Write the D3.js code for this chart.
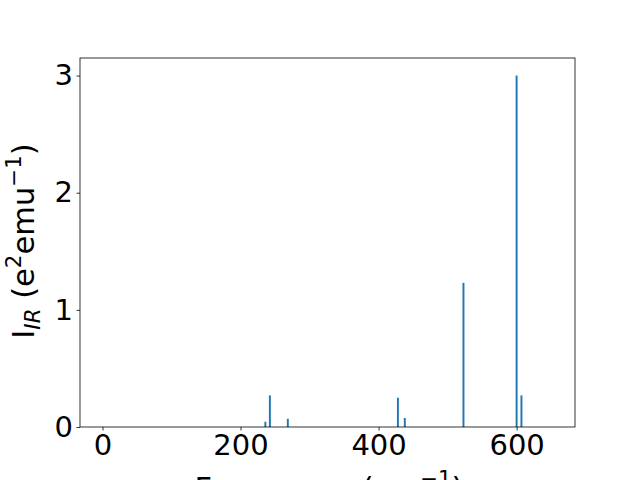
<!DOCTYPE html>
<html><head><meta charset="utf-8">
<script src="https://cdn.jsdelivr.net/npm/d3@7"></script>
<style>body{margin:0;background:#fff}svg{display:block}text{font-family:"DejaVu Sans",sans-serif}</style>
</head><body>
<svg id="c" width="640" height="480"></svg>
<script>
const frequencies = [0, 236, 242.5, 268.5, 428, 438, 523, 600, 607, 652];
const intensities = [0, 0.045, 0.27, 0.07, 0.25, 0.077, 1.23, 3.0, 0.27, 0];
const xTicks = [0, 200, 400, 600];
const yTicks = [0, 1, 2, 3];

const svg = d3.select("#c");
const L = 80, R = 575, T = 58, B = 427;
const x = d3.scaleLinear().domain([-32.6, 684.6]).range([L, R]);
const y = d3.scaleLinear().domain([0, 3.15]).range([B, T]);
const barW = 2.8;

svg.append("g").selectAll("rect").data(frequencies).join("rect")
  .attr("x", (d) => x(d - barW / 2))
  .attr("width", x(barW) - x(0))
  .attr("y", (d, i) => y(intensities[i]))
  .attr("height", (d, i) => y(0) - y(intensities[i]))
  .attr("fill", "#1f77b4");

const fs = 29, lfs = 30.5;
const xa = svg.append("g").attr("transform", `translate(0,${B})`)
  .call(d3.axisBottom(x).tickValues(xTicks).tickSize(3.5).tickPadding(3.5).tickFormat(d3.format("d")));
const ya = svg.append("g").attr("transform", `translate(${L},0)`)
  .call(d3.axisLeft(y).tickValues(yTicks).tickSize(3.5).tickPadding(3.5).tickFormat(d3.format("d")));
[xa, ya].forEach(a => {
  a.select(".domain").remove();
  a.selectAll("line").attr("stroke", "#000").attr("stroke-width", 0.8);
  a.selectAll("text").attr("font-size", fs).attr("fill", "#000").attr("font-family", "DejaVu Sans");
});
svg.append("rect").attr("x", L).attr("y", T).attr("width", R - L).attr("height", B - T)
  .attr("fill", "none").attr("stroke", "#000").attr("stroke-width", 0.8);

// x label
const xl = svg.append("text").attr("x", 329).attr("y", 499).attr("text-anchor", "middle")
  .attr("font-size", lfs).attr("fill", "#000");
xl.append("tspan").text("Frequency (cm");
xl.append("tspan").attr("font-size", lfs * 0.7).attr("dy", -13).text("\u22121");
xl.append("tspan").attr("dy", 13).text(")");

// y label
const yl = svg.append("text").attr("transform", `translate(34,241) rotate(-90)`)
  .attr("text-anchor", "middle").attr("font-size", lfs).attr("fill", "#000");
yl.append("tspan").text("I");
yl.append("tspan").attr("font-size", lfs * 0.7).attr("font-style", "italic").attr("dy", 6).text("IR");
yl.append("tspan").attr("dy", -6).text(" (e");
yl.append("tspan").attr("font-size", lfs * 0.7).attr("dy", -13).text("2");
yl.append("tspan").attr("dy", 13).text("emu");
yl.append("tspan").attr("font-size", lfs * 0.7).attr("dy", -13).text("\u22121");
yl.append("tspan").attr("dy", 13).text(")");
</script>
</body></html>
